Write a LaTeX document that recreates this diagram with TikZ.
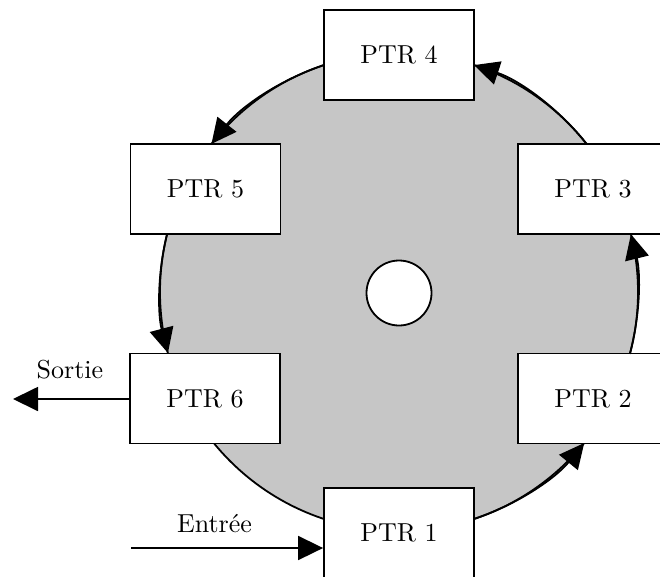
\documentclass[tikz,border=0pt]{standalone}
\usepackage{graphicx}
\usetikzlibrary{arrows.meta,calc}
\definecolor{disk}{RGB}{198,198,198}
\newcommand{\bigtxt}[1]{\scalebox{2.6}{\fontsize{10}{12}\selectfont #1}}
\begin{document}
\begin{tikzpicture}[x=1pt,y=1pt,
  ptr/.style={draw=black, fill=white, line width=1.8pt, minimum width=150pt, minimum height=90pt, inner sep=0pt},
  lbl/.style={inner sep=0pt, anchor=base},
  ringarrow/.style={line width=1.8pt, -{Triangle[length=25pt,width=24pt]}},
  flow/.style={line width=1.8pt, -{Triangle[length=25pt,width=24pt]}}]
\useasboundingbox (0,0) rectangle (660,-576);
\coordinate (c) at (399,-292);
\filldraw[fill=disk, draw=black, line width=1.8pt] (c) circle[radius=239];
\node[draw=black, fill=white, circle, minimum size=65pt, inner sep=0pt, line width=1.8pt] (hole) at (399,-293) {};
\node[ptr] (p4) at (399,-55) {\bigtxt{PTR 4}};
\node[ptr] (p5) at (205.5,-189) {\bigtxt{PTR 5}};
\node[ptr] (p3) at (593,-189) {\bigtxt{PTR 3}};
\node[ptr] (p6) at (205,-398.5) {\bigtxt{PTR 6}};
\node[ptr] (p2) at (593,-398.5) {\bigtxt{PTR 2}};
\node[ptr] (p1) at (399,-533) {\bigtxt{PTR 1}};
\coordinate (s12) at ($(c)+(-71.7:239)$);
\coordinate (s23) at ($(c)+(-15.0:239)$);
\coordinate (s34) at ($(c)+(38.3:239)$);
\coordinate (s45) at ($(c)+(108.3:239)$);
\coordinate (s56) at ($(c)+(166.0:239)$);
\draw[ringarrow] (s12) arc[start angle=-71.7, end angle=-39.2, radius=239];
\draw[ringarrow] (s23) arc[start angle=-15.0, end angle=14.0, radius=239];
\draw[ringarrow] (s34) arc[start angle=38.3, end angle=71.7, radius=239];
\draw[ringarrow] (s45) arc[start angle=108.3, end angle=141.7, radius=239];
\draw[ringarrow] (s56) arc[start angle=166.0, end angle=194.8, radius=239];
\coordinate (out) at (13,-399);
\draw[flow] (p6.west |- out) -- (out);
\node[lbl] (sortie) at (70,-378) {\bigtxt{Sortie}};
\coordinate (in) at (131,-548);
\draw[flow] (in) -- (in -| p1.west);
\node[lbl] (entree) at (214.5,-532) {\bigtxt{Entrée}};
\end{tikzpicture}
\end{document}
